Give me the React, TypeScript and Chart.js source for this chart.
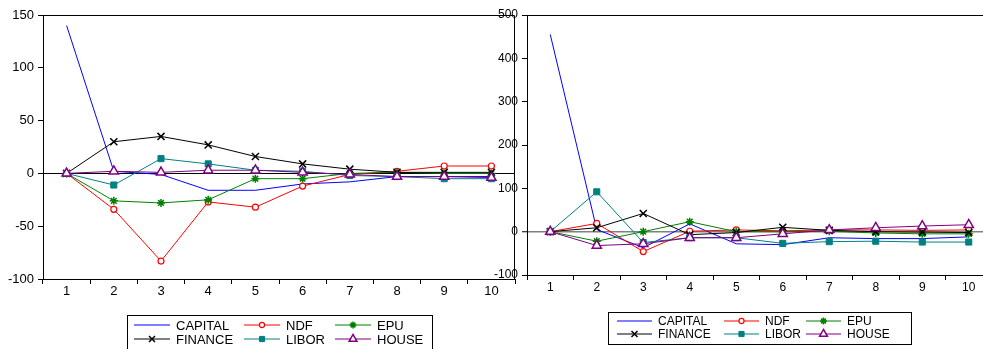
import React, { useEffect, useRef } from "react";
import { Chart, registerables } from "chart.js";
import { drawPoint } from "chart.js/helpers";

Chart.register(...registerables);

// ---------- data ----------
const periods = ["1", "2", "3", "4", "5", "6", "7", "8", "9", "10"];
const seriesNames = ["CAPITAL", "NDF", "EPU", "FINANCE", "LIBOR", "HOUSE"];

const leftCapital = [140, 2, -1, -16, -16, -10, -8, -3, -3, -3];
const leftNdf = [0, -34, -83, -27, -32, -12, -1, 2, 7, 7];
const leftEpu = [0, -26, -28, -25, -5, -5, 0, 1, 0, 0];
const leftFinance = [0, 30, 35, 27, 16, 9, 4, 1, 1, 1];
const leftLibor = [0, -11, 14, 9, 3, 2, -2, -3, -5, -5];
const leftHouse = [0, 2, 1, 3, 3, 1, -1, -3, -3, -4];

const rightCapital = [455, 5, -37, 18, -28, -30, -14, -16, -16, -12];
const rightNdf = [0, 19, -46, 1, 4, 2, 4, 4, 3, 4];
const rightEpu = [0, -22, 0, 23, 0, 0, 1, -3, -5, -5];
const rightFinance = [0, 9, 42, -7, -2, 10, 3, 0, -1, -2];
const rightLibor = [0, 92, -25, -14, -14, -27, -23, -22, -24, -24];
const rightHouse = [0, -32, -28, -14, -14, -5, 4, 9, 13, 16];

const leftTicks = [-100, -50, 0, 50, 100, 150];
const rightTicks = [-100, 0, 100, 200, 300, 400, 500];

// ---------- styles ----------
const FONT = '"Liberation Sans", Arial, sans-serif';
const seriesStyles = [
  { color: "#0000FF", pointStyle: "circle", radius: 0, fill: "#0000FF", bw: 1 },
  { color: "#FF0000", pointStyle: "circle", radius: 3, fill: "#FFFFFF", bw: 1.2 },
  { color: "#008000", pointStyle: "star", radius: 4, fill: "#008000", bw: 1.5 },
  { color: "#000000", pointStyle: "crossRot", radius: 5, fill: "#000000", bw: 1.5 },
  { color: "#008080", pointStyle: "rect", radius: 4.3, fill: "#008080", bw: 1 },
  { color: "#800080", pointStyle: "triangle", radius: 5.3, fill: "#FFFFFF", bw: 1.5 },
];

const framePlugin = {
  id: "frame",
  afterDraw(chart: any) {
    const { ctx, chartArea } = chart;
    ctx.save();
    ctx.strokeStyle = "#000";
    ctx.lineWidth = 1;
    ctx.beginPath();
    const t = Math.round(chartArea.top) + 0.5;
    const r = Math.round(chartArea.right) - 0.5;
    const b = Math.round(chartArea.bottom);
    ctx.moveTo(Math.round(chartArea.left), t);
    ctx.lineTo(r, t);
    ctx.lineTo(r, b);
    ctx.stroke();
    ctx.restore();
  },
};

const boxLegendPlugin = {
  id: "boxLegend",
  afterDraw(chart: any, _args: any, opts: any) {
    const { ctx } = chart;
    const { x, y, w, h, cols, rows, lineLen, textGap, fontSize, markerScale } = opts;
    ctx.save();
    ctx.strokeStyle = "#000";
    ctx.lineWidth = 1;
    ctx.strokeRect(x + 0.5, y + 0.5, w, h);
    chart.data.datasets.forEach((ds: any, i: number) => {
      const col = i % 3;
      const row = Math.floor(i / 3);
      const lx = x + cols[col];
      const ly = y + rows[row];
      ctx.strokeStyle = ds.borderColor;
      ctx.lineWidth = 1.2;
      ctx.beginPath();
      ctx.moveTo(lx, ly);
      ctx.lineTo(lx + lineLen, ly);
      ctx.stroke();
      if (ds.pointRadius > 0) {
        ctx.fillStyle = ds.pointBackgroundColor;
        ctx.strokeStyle = ds.pointBorderColor;
        ctx.lineWidth = ds.pointBorderWidth;
        drawPoint(
          ctx,
          {
            pointStyle: ds.pointStyle,
            rotation: 0,
            radius: ds.pointRadius * markerScale,
            borderWidth: ds.pointBorderWidth,
          } as any,
          lx + lineLen / 2,
          ly
        );
      }
      ctx.fillStyle = "#000";
      ctx.font = `${fontSize}px ${FONT}`;
      ctx.textBaseline = "middle";
      ctx.textAlign = "left";
      ctx.fillText(ds.label, lx + lineLen + textGap, ly + 1);
    });
    ctx.restore();
  },
};

type PanelProps = {
  series: number[][];
  ticks: number[];
  step: number;
  left: number;
  width: number;
  yAxisWidth: number;
  xAxisHeight: number;
  padRight: number;
  zeroColor: string;
  zeroWidth: number;
  fontSize: number;
  legend: any;
};

function Panel(p: PanelProps) {
  const ref = useRef<HTMLCanvasElement | null>(null);
  useEffect(() => {
    if (!ref.current) return;
    const datasets = seriesNames.map((name, i) => {
      const s = seriesStyles[i];
      return {
        label: name,
        data: p.series[i],
        borderColor: s.color,
        backgroundColor: s.color,
        borderWidth: 1,
        pointStyle: s.pointStyle,
        pointRadius: s.radius,
        pointHoverRadius: s.radius,
        pointBackgroundColor: s.fill,
        pointBorderColor: s.color,
        pointBorderWidth: s.bw,
        tension: 0,
        fill: false,
        order: seriesNames.length - 1 - i,
      };
    });
    const chart = new Chart(ref.current, {
      type: "line",
      data: { labels: periods, datasets },
      options: {
        animation: false,
        responsive: false,
        devicePixelRatio: 1,
        events: [],
        layout: { padding: { top: 15, right: p.padRight, left: 0, bottom: 0 } },
        plugins: {
          legend: { display: false },
          tooltip: { enabled: false },
          boxLegend: p.legend,
        } as any,
        scales: {
          x: {
            type: "category",
            offset: true,
            afterFit: (scale: any) => {
              scale.height = p.xAxisHeight;
            },
            grid: {
              offset: true,
              drawOnChartArea: false,
              drawTicks: true,
              tickLength: 5,
              tickColor: "#000",
            },
            border: { display: true, color: "#000", width: 1 },
            ticks: {
              color: "#000",
              font: { family: FONT, size: p.fontSize },
              padding: 0,
              maxRotation: 0,
              autoSkip: false,
            },
          },
          y: {
            type: "linear",
            min: p.ticks[0],
            max: p.ticks[p.ticks.length - 1],
            afterFit: (scale: any) => {
              scale.width = p.yAxisWidth;
            },
            afterBuildTicks: (scale: any) => {
              scale.ticks = p.ticks.map((v) => ({ value: v }));
            },
            grid: {
              color: (c: any) =>
                c.tick && c.tick.value === 0 ? p.zeroColor : "rgba(0,0,0,0)",
              lineWidth: (c: any) => (c.tick && c.tick.value === 0 ? p.zeroWidth : 1),
              drawTicks: true,
              tickLength: 5,
              tickColor: "#000",
              tickWidth: 1,
            },
            border: { display: true, color: "#000", width: 1 },
            ticks: {
              color: "#000",
              font: { family: FONT, size: p.fontSize },
              padding: 4,
              stepSize: p.step,
            },
          },
        },
      } as any,
      plugins: [framePlugin, boxLegendPlugin],
    });
    return () => chart.destroy();
  }, []);
  return (
    <canvas
      ref={ref}
      width={p.width}
      height={349}
      style={{
        position: "absolute",
        left: p.left,
        top: 0,
        width: p.width,
        height: 349,
        background: "transparent",
      }}
    />
  );
}

export default function App() {
  return (
    <div
      style={{
        position: "fixed",
        left: 0,
        top: 0,
        width: 983,
        height: 349,
        overflow: "hidden",
        background: "#fff",
      }}
    >
      <Panel
        series={[leftCapital, leftNdf, leftEpu, leftFinance, leftLibor, leftHouse]}
        ticks={leftTicks}
        step={50}
        left={0}
        width={525}
        yAxisWidth={43}
        xAxisHeight={70}
        padRight={10}
        zeroColor="#000"
        zeroWidth={1}
        fontSize={13}
        legend={{
          x: 127,
          y: 315,
          w: 305,
          h: 40,
          cols: [7, 117, 208],
          rows: [10, 24],
          lineLen: 36,
          textGap: 6,
          fontSize: 13,
          markerScale: 0.85,
        }}
      />
      <Panel
        series={[rightCapital, rightNdf, rightEpu, rightFinance, rightLibor, rightHouse]}
        ticks={rightTicks}
        step={100}
        left={480}
        width={520}
        yAxisWidth={47}
        xAxisHeight={74}
        padRight={8}
        zeroColor="#808080"
        zeroWidth={1.5}
        fontSize={12}
        legend={{
          x: 128,
          y: 312,
          w: 303,
          h: 32,
          cols: [9, 116, 198],
          rows: [9, 22],
          lineLen: 35,
          textGap: 6,
          fontSize: 12,
          markerScale: 0.85,
        }}
      />
    </div>
  );
}
